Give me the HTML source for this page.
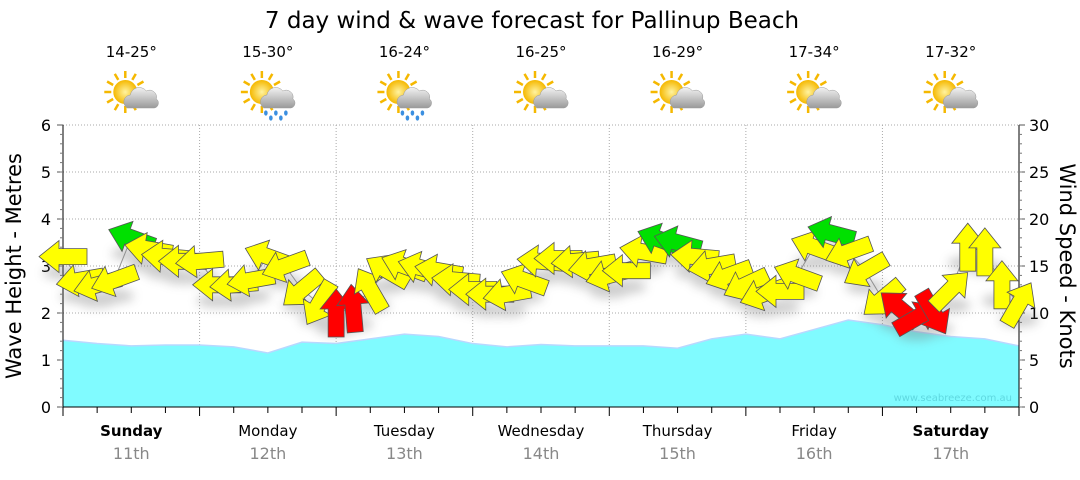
<!DOCTYPE html>
<html><head><meta charset="utf-8">
<style>
body{margin:0;background:#fff;}
svg text{font-family:"DejaVu Sans","Liberation Sans",sans-serif;}
</style></head>
<body>
<svg id="chart" width="1080" height="475" xmlns="http://www.w3.org/2000/svg">
<defs>
<filter id="sh" x="-50%" y="-50%" width="200%" height="200%"><feGaussianBlur stdDeviation="5"/></filter>
<radialGradient id="sun" cx="50%" cy="50%" r="50%"><stop offset="0" stop-color="#fff3a0"/><stop offset="1" stop-color="#f5b800"/></radialGradient>
<linearGradient id="cloud" x1="0" y1="0" x2="0" y2="1"><stop offset="0" stop-color="#f2f2f2"/><stop offset="1" stop-color="#9a9a9a"/></linearGradient>
</defs>
<text x="532" y="28" font-size="23" text-anchor="middle" fill="#000">7 day wind &amp; wave forecast for Pallinup Beach</text>
<g id="grid"></g>
<g id="wave"></g>
<g id="axes"></g>
<g id="wind"></g>
<g id="icons"></g>
<text x="1012" y="401" font-size="10" text-anchor="end" fill="#5fd8e0">www.seabreeze.com.au</text>
<text transform="translate(21,266) rotate(-90)" font-size="21" text-anchor="middle">Wave Height - Metres</text>
<text transform="translate1058,266) rotate(90)" font-size="21" text-anchor="middle"></text>
<text transform="translate(1060,266) rotate(90)" font-size="21" text-anchor="middle">Wind Speed - Knots</text>
</svg>
<script>
const days=["Sunday","Monday","Tuesday","Wednesday","Thursday","Friday","Saturday"];
const dates=["11th","12th","13th","14th","15th","16th","17th"];
const temps=["14-25°","15-30°","16-24°","16-25°","16-29°","17-34°","17-32°"];
const rain=[false,true,true,false,false,false,false];
const waveHeights=[1.42,1.35,1.3,1.32,1.32,1.28,1.15,1.38,1.35,1.45,1.55,1.5,1.35,1.28,1.33,1.3,1.3,1.3,1.25,1.45,1.55,1.45,1.65,1.85,1.75,1.6,1.5,1.45,1.3];
const windSpeed=[16,13.5,13,13.5,18,16.8,16,15.5,15.5,13,13,13.5,16,15,12.5,11,10,10.5,12.5,14.5,15,14.8,14.5,13.5,12.5,12,12,13.5,15.5,15.8,15.5,15,14,14.5,16.5,17.8,17.5,16,15,14,13,12,12.3,14,17,18.5,16.5,14.5,11.5,10.5,9.5,10,12.5,17,16.5,13,11];
const windDir=[180,190,195,200,160,170,175,180,185,180,185,190,160,200,220,240,90,95,120,150,160,165,170,175,180,180,190,160,175,180,185,190,195,180,170,160,165,175,190,200,205,200,180,160,160,165,200,210,220,140,30,300,45,90,90,90,60];
const leftTicks=[0,1,2,3,4,5,6];
const rightTicks=[0,5,10,15,20,25,30];

const NS="http://www.w3.org/2000/svg";
const X0=63,X1=1019,Y0=407,Y1=125;
const hours=168;
const xT=h=>X0+(X1-X0)*h/hours;
const yM=m=>Y0-(Y0-Y1)*m/6;
const yK=k=>Y0-(Y0-Y1)*k/30;
function mk(tag,attrs,parent){const e=document.createElementNS(NS,tag);for(const k in attrs)e.setAttribute(k,attrs[k]);parent.appendChild(e);return e;}
const grid=document.getElementById('grid'),axes=document.getElementById('axes'),waveG=document.getElementById('wave'),windG=document.getElementById('wind'),icons=document.getElementById('icons');

for(let m=1;m<=6;m++){const l=mk('line',{x1:X0,x2:X1,y1:yM(m),y2:yM(m),stroke:'#aaa','stroke-dasharray':'1,2'},grid);

}
for(let d=1;d<7;d++){const l=mk('line',{x1:xT(d*24),x2:xT(d*24),y1:Y1,y2:Y0,stroke:'#aaa','stroke-dasharray':'1,2'},grid);

}

let d='M'+xT(0)+','+Y0;
waveHeights.forEach((v,i)=>{d+=' L'+xT(i*6)+','+yM(v);});
d+=' L'+xT(hours)+','+Y0+' Z';
const wa=mk('path',{d:d,fill:'#80fbff',stroke:'none'},waveG);


let ld='';waveHeights.forEach((v,i)=>{ld+=(i?' L':'M')+xT(i*6)+','+yM(v);});
const wl=mk('path',{d:ld,fill:'none',stroke:'#b8d8ff','stroke-width':1.5},waveG);



mk('line',{x1:X0,x2:X0,y1:Y1,y2:Y0,stroke:'#000'},axes);
mk('line',{x1:X1,x2:X1,y1:Y1,y2:Y0,stroke:'#000'},axes);
mk('line',{x1:X0,x2:X1,y1:Y0,y2:Y0,stroke:'#000'},axes);
leftTicks.forEach(t=>{
 const tx=mk('text',{x:X0-12,y:yM(t)+6,'font-size':16,'text-anchor':'end'},axes);tx.textContent=t;
 
 
 mk('line',{x1:X0-6,x2:X0,y1:yM(t),y2:yM(t),stroke:'#555'},axes);
});
for(let m=0;m<6;m+=0.2){mk('line',{x1:X0-3,x2:X0,y1:yM(m),y2:yM(m),stroke:'#777'},axes);}
rightTicks.forEach(t=>{
 const tx=mk('text',{x:X1+10,y:yK(t)+6,'font-size':16,'text-anchor':'start'},axes);tx.textContent=t;
 
 
 mk('line',{x1:X1,x2:X1+6,y1:yK(t),y2:yK(t),stroke:'#555'},axes);
});
for(let k=0;k<30;k++){mk('line',{x1:X1,x2:X1+3,y1:yK(k),y2:yK(k),stroke:'#777'},axes);}
for(let h=0;h<=hours;h+=6){const maj=h%24==0;mk('line',{x1:xT(h),x2:xT(h),y1:Y0,y2:Y0+(maj?9:6),stroke:'#000'},axes);}
days.forEach((dy,i)=>{
 const cx=xT(i*24+12);
 const t1=mk('text',{x:cx,y:436,'font-size':15,'text-anchor':'middle','font-weight':(i==0||i==6)?'bold':'normal'},axes);t1.textContent=dy;
 
 
 const t2=mk('text',{x:cx,y:459,'font-size':16,'text-anchor':'middle',fill:'#888'},axes);t2.textContent=dates[i];
 
 
 const t3=mk('text',{x:cx,y:57,'font-size':15,'text-anchor':'middle'},icons);t3.textContent=temps[i];
 
 
 const g=mk('g',{transform:'translate('+cx+',96)'},icons);
 
 
 for(let a=0;a<12;a++){const r=a*Math.PI/6;mk('line',{x1:-6+Math.cos(r)*14,y1:-4+Math.sin(r)*14,x2:-6+Math.cos(r)*21,y2:-4+Math.sin(r)*21,stroke:'#f5b800','stroke-width':2.5},g);}
 mk('circle',{cx:-6,cy:-4,r:12,fill:'url(#sun)'},g);
 mk('path',{d:'M-4,12 a7,7 0 0 1 3,-13 a9,9 0 0 1 16,-4 a7,7 0 0 1 10,8 a5,5 0 0 1 -2,9 Z',fill:'url(#cloud)',stroke:'#999','stroke-width':0.5},g);
 if(rain[i]){for(let r=0;r<5;r++){mk('ellipse',{cx:-2+r*5,cy:17+(r%2)*5,rx:1.8,ry:2.6,fill:'#3b8fe0'},g);}}
});

const pts=windSpeed.map((k,i)=>[xT(i*3),yK(k)]);
let wd='';pts.forEach((p,i)=>{wd+=(i?' L':'M')+p[0]+','+p[1];});
const wline=mk('path',{d:wd,fill:'none',stroke:'#999','stroke-width':1},windG);


const shG=mk('g',{filter:'url(#sh)',opacity:0.35},windG);
const arrowD='M-24,-8 L4,-8 L4,-16 L24,0 L4,16 L4,8 L-24,8 Z';
pts.forEach((p,i)=>{mk('ellipse',{cx:p[0],cy:p[1]+16,rx:20,ry:7,fill:'#777'},shG);});
pts.forEach((p,i)=>{
 const k=windSpeed[i];
 const col=k>=17.5?'#00e000':(k<11?'#ff0000':'#ffff00');
 const a=mk('path',{d:arrowD,fill:col,stroke:'#555','stroke-width':0.8,transform:'translate('+p[0]+','+p[1]+') rotate('+(-windDir[i])+')'},windG);
 
 
});
</script>
</body></html>
